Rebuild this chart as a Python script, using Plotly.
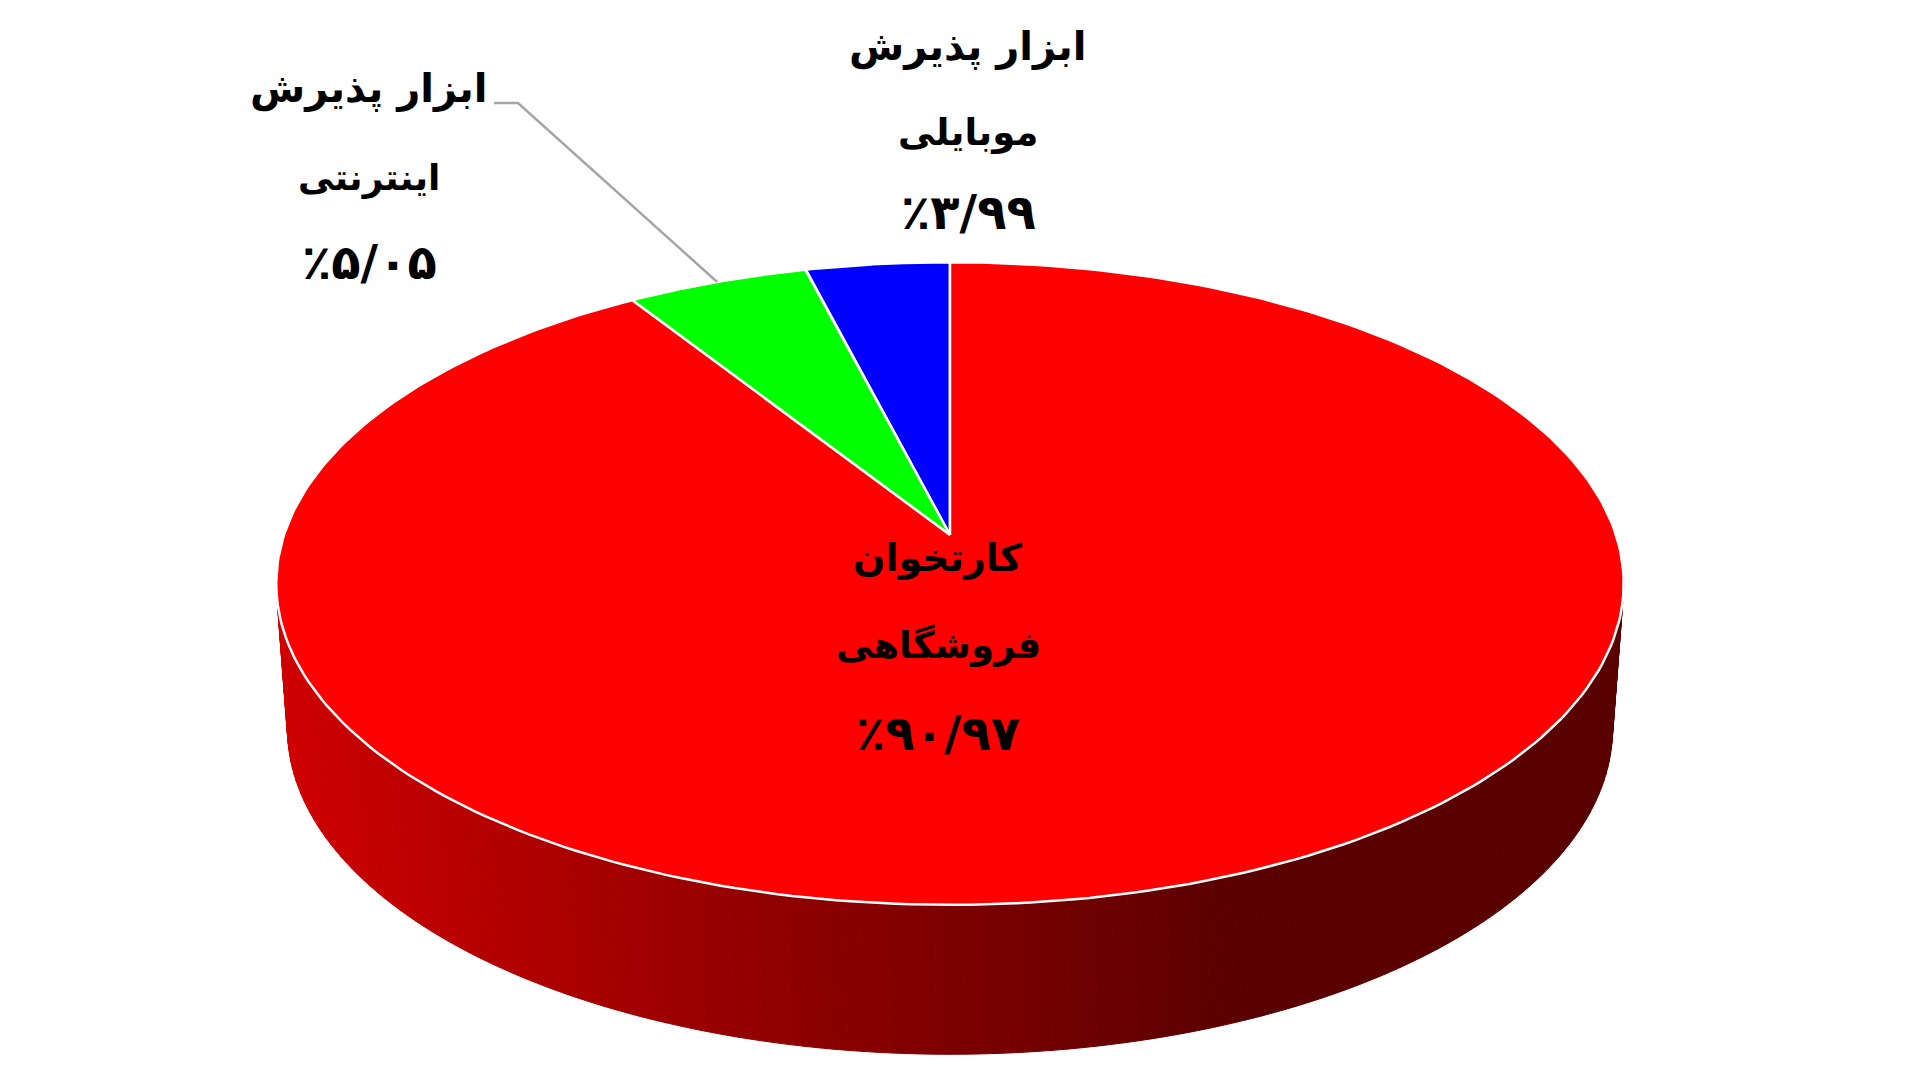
import numpy as np
import plotly.graph_objects as go

# slice order is counter-clockwise starting at 12 o'clock
slice_names = ['موبایلی', 'اینترنتی', 'فروشگاهی']
slice_values = [3.99, 5.05, 90.97]
slice_colors = ['#0000ff', '#00ff00', '#ff0000']

label_lines = [
    ['ابزار پذیرش', 'موبایلی', '٪۳/۹۹'],
    ['ابزار پذیرش', 'اینترنتی', '٪۵/۰۵'],
    ['کارتخوان', 'فروشگاهی', '٪۹۰/۹۷'],
]
label_x = [968, 369, 938]
label_y = [[46, 132, 212], [88, 178, 262], [558, 645, 733]]
label_sizes = [[40, 37, 48], [40, 36, 48], [38, 37, 48]]

# wall shading, screen x -> colour
wall_x = [280, 490, 740, 985, 1230, 1630]
wall_r = [208, 181, 149, 122, 92, 90]

# tilted disc: projective map of a circle so the apex sits above the ellipse centre
CX = 950
K = 0.151
TOP = dict(a=666, b=314, y0=535)
LOW = dict(a=655, b=318.6, y0=679)


def rim(theta, p):
    # theta in radians counter-clockwise from 12 o'clock
    u, v = -np.sin(theta), np.cos(theta)
    w = 1 + K * v
    return CX + p['a'] * u / w, p['y0'] - p['b'] * v / w


fig = go.Figure()

# side wall
edges = np.radians(np.linspace(98, 262, 151))
for t0, t1 in zip(edges[:-1], edges[1:]):
    tx0, ty0 = rim(t0, TOP)
    tx1, ty1 = rim(t1, TOP)
    lx0, ly0 = rim(t0, LOW)
    lx1, ly1 = rim(t1, LOW)
    r = int(np.interp((lx0 + lx1) / 2, wall_x, wall_r))
    col = f'rgb({r},0,0)'
    fig.add_trace(go.Scatter(
        x=[tx0, tx1, lx1, lx0, tx0], y=[ty0, ty1, ly1, ly0, ty0],
        mode='lines', fill='toself', fillcolor=col,
        line=dict(color=col, width=1), hoverinfo='skip', showlegend=False,
    ))

# top face, one polygon per slice
fractions = np.array(slice_values) / sum(slice_values)
starts = np.concatenate([[0], np.cumsum(fractions)[:-1]]) * 2 * np.pi
for i in range(len(slice_values)):
    t = np.linspace(starts[i], starts[i] + fractions[i] * 2 * np.pi, 300)
    xs, ys = rim(t, TOP)
    fig.add_trace(go.Scatter(
        x=[CX, *xs, CX], y=[TOP['y0'], *ys, TOP['y0']],
        mode='lines', fill='toself', fillcolor=slice_colors[i],
        line=dict(color='white', width=2.5), hoverinfo='skip',
        name=slice_names[i], showlegend=False,
    ))

# leader of the internet slice, ends on the middle of its arc
mid = starts[1] + fractions[1] * np.pi
end_x, end_y = rim(mid, TOP)
fig.add_trace(go.Scatter(
    x=[494, 518, end_x], y=[103, 103, end_y], mode='lines',
    line=dict(color='#a6a6a6', width=2.5), hoverinfo='skip', showlegend=False,
))

for lines, lx, lys, sizes in zip(label_lines, label_x, label_y, label_sizes):
    for text, ly, sz in zip(lines, lys, sizes):
        fig.add_annotation(
            x=lx, y=ly, text=text, showarrow=False, xanchor='center', yanchor='middle',
            font=dict(family='DejaVu Sans', size=sz, color='#000000', weight=700),
        )

fig.update_xaxes(range=[0, 1920], visible=False, fixedrange=True)
fig.update_yaxes(range=[1075, 0], visible=False, fixedrange=True)
fig.update_layout(
    width=1920, height=1075,
    margin=dict(l=0, r=0, t=0, b=0),
    paper_bgcolor='white', plot_bgcolor='white',
)
fig.write_html(
    "out.html",
    config=dict(displayModeBar=False),
    post_script="document.body.style.margin='0';document.body.style.overflow='hidden';",
)
